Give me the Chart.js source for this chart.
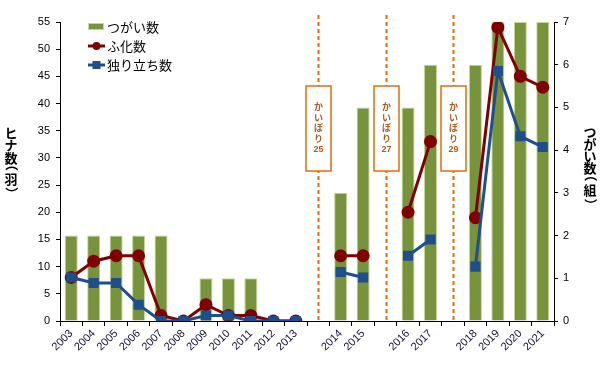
<!DOCTYPE html>
<html>
<head>
<meta charset="utf-8">
<script src="https://cdn.jsdelivr.net/npm/chart.js@4/dist/chart.umd.min.js"></script>
<style>
html,body{margin:0;padding:0;background:#fff;}
#wrap{width:602px;height:366px;position:relative;}
</style>
</head>
<body>
<div id="wrap"><canvas id="c" width="602" height="366"></canvas></div>
<script>
// Categories ('' marks the break columns with dashed separators)
const categories = ['2003','2004','2005','2006','2007','2008','2009','2010','2011','2012','2013','',
  '2014','2015','','2016','2017','','2018','2019','2020','2021'];
// つがい数 (pairs, right axis)
const pairs = [2,2,2,2,2,0,1,1,1,0,0,null, 3,5,null, 5,6,null, 6,7,7,7];
// ふ化数 (hatched, left axis)
const hatched = [8,11,12,12,1,0,3,1,1,0,0,null, 12,12,null, 20,33,null, 19,54,45,43];
// 独り立ち数 (fledged, left axis)
const fledged = [8,7,7,3,0,0,1,1,0,0,0,null, 9,8,null, 12,15,null, 10,46,34,32];
// annotation texts at the break columns
const breakLabels = ['かいぼり25','かいぼり27','かいぼり29'];
const seriesNames = ['つがい数','ふ化数','独り立ち数'];
const leftTitle = 'ヒナ数（羽）';
const rightTitle = 'つがい数（組）';

const JP = '"Noto Sans CJK JP", sans-serif';
const NUM = '"Liberation Sans", Arial, sans-serif';
const GREEN = '#77933c', GREEN_B = '#c3d69b', RED = '#800000', BLUE = '#1f4e8c', ORANGE = '#e46c0a';

// draws stacked vertical text; parentheses are rotated and centred on their glyph box
function verticalText(ctx, text, x, y0, step, pstep){
  let y = y0;
  const chars = text.split('');
  chars.forEach((ch,i)=>{
    const isP = (ch==='（' || ch==='）');
    if(isP){
      ctx.save();
      ctx.textAlign = 'left'; ctx.textBaseline = 'alphabetic';
      const m = ctx.measureText(ch);
      const cx = (m.actualBoundingBoxRight - m.actualBoundingBoxLeft)/2;
      const cy = (m.actualBoundingBoxDescent - m.actualBoundingBoxAscent)/2;
      ctx.translate(x, y); ctx.rotate(Math.PI/2);
      ctx.fillText(ch, -cx, -cy);
      ctx.restore();
    } else {
      ctx.fillText(ch, x, y);
    }
    const next = chars[i+1];
    const nextP = next==='（' || next==='）';
    y += (isP || nextP) ? pstep : step;
  });
}

const overlay = {
  id: 'overlay',
  beforeDatasetsDraw(chart){
    const ctx = chart.ctx;
    const x = chart.scales.x, ca = chart.chartArea;
    let k = 0;
    categories.forEach((c,i)=>{
      if(c!=='') return;
      const px = Math.round(x.getPixelForValue(i)) + 0.5;
      ctx.save();
      ctx.strokeStyle = ORANGE; ctx.lineWidth = 2; ctx.setLineDash([4,3]);
      ctx.beginPath(); ctx.moveTo(px, ca.top - 7); ctx.lineTo(px, ca.bottom); ctx.stroke();
      ctx.setLineDash([]);
      const bw = 25, bt = ca.top + 64, bh = 85;
      ctx.fillStyle = '#fff';
      ctx.fillRect(px - bw/2, bt, bw, bh);
      ctx.lineWidth = 1.5; ctx.strokeRect(px - bw/2, bt, bw, bh);
      const t = breakLabels[k++] || '';
      ctx.fillStyle = '#b3591a';
      ctx.textAlign = 'center'; ctx.textBaseline = 'middle';
      ctx.font = 'bold 9px ' + JP;
      t.slice(0,4).split('').forEach((ch,j)=>{ ctx.fillText(ch, px, bt + 21 + j*10.5); });
      ctx.font = 'bold 9px ' + NUM;
      ctx.fillText(t.slice(4), px, bt + 21 + 4*10.5 + 1);
      ctx.restore();
    });
  },
  afterDraw(chart){
    const ctx = chart.ctx;
    ctx.save();
    // legend
    const lx = 88, rows = [27, 46, 65];
    ctx.fillStyle = GREEN; ctx.fillRect(lx, rows[0]-3, 15, 6);
    ctx.strokeStyle = GREEN_B; ctx.lineWidth = 1; ctx.strokeRect(lx+0.5, rows[0]-3.5, 15, 6);
    ctx.strokeStyle = RED; ctx.lineWidth = 3;
    ctx.beginPath(); ctx.moveTo(lx, rows[1]); ctx.lineTo(lx+17, rows[1]); ctx.stroke();
    ctx.fillStyle = RED; ctx.beginPath(); ctx.arc(lx+8.5, rows[1], 4, 0, Math.PI*2); ctx.fill();
    ctx.strokeStyle = BLUE;
    ctx.beginPath(); ctx.moveTo(lx, rows[2]); ctx.lineTo(lx+17, rows[2]); ctx.stroke();
    ctx.fillStyle = BLUE; ctx.fillRect(lx+4.5, rows[2]-4, 8, 8);
    ctx.fillStyle = '#000'; ctx.font = '13px ' + JP;
    ctx.textAlign = 'left'; ctx.textBaseline = 'middle';
    seriesNames.forEach((s,i)=> ctx.fillText(s, lx + 19, rows[i]));
    // axis titles (vertical, stacked)
    ctx.font = 'bold 13px ' + JP; ctx.textAlign = 'center'; ctx.textBaseline = 'middle';
    verticalText(ctx, leftTitle, 11, 133, 12.5, 10.5);
    verticalText(ctx, rightTitle, 590, 132, 12, 11);
    ctx.restore();
  }
};

new Chart(document.getElementById('c'), {
  type: 'bar',
  data: {
    labels: categories,
    datasets: [
      { type:'line', label: seriesNames[2], data: fledged, yAxisID:'y', order:0,
        borderColor: BLUE, backgroundColor: BLUE, borderWidth: 3,
        pointStyle:'rect', pointRadius: 5, pointHoverRadius:5, spanGaps:false, tension:0 },
      { type:'line', label: seriesNames[1], data: hatched, yAxisID:'y', order:1,
        borderColor: RED, backgroundColor: RED, borderWidth: 3,
        pointStyle:'circle', pointRadius: 5, pointHoverRadius:5, spanGaps:false, tension:0 },
      { type:'bar', label: seriesNames[0], data: pairs, yAxisID:'y2', order:2,
        backgroundColor: GREEN, borderColor: GREEN_B, borderWidth: 1,
        barPercentage: 0.58, categoryPercentage: 1.0 }
    ]
  },
  options: {
    responsive: false,
    animation: false,
    events: [],
    layout: { padding: { left: 20, right: 28, top: 22, bottom: 0 } },
    plugins: { legend: { display:false }, tooltip: { enabled:false } },
    scales: {
      x: {
        offset: true,
        grid: { display:true, drawOnChartArea:false, drawTicks:true, tickLength:5, offset:true, color:'#000' },
        border: { display:true, color:'#000', width:1 },
        ticks: { autoSkip:false, maxRotation:45, minRotation:45, color:'#101030', padding:1,
                 font:{ family: NUM, size: 11 } },
        afterFit(s){ s.height = 45; }
      },
      y: {
        position:'left', min:0, max:55,
        grid: { display:true, drawOnChartArea:false, drawTicks:true, tickLength:4, color:'#000' },
        border: { display:true, color:'#000', width:1 },
        ticks: { stepSize:5, color:'#000', padding:6, font:{ family: NUM, size: 11 } },
        afterFit(s){ s.width = 40; }
      },
      y2: {
        position:'right', min:0, max:7,
        grid: { display:true, drawOnChartArea:false, drawTicks:true, tickLength:4, color:'#000' },
        border: { display:true, color:'#000', width:1 },
        ticks: { stepSize:1, color:'#000', padding:5, font:{ family: NUM, size: 11 } },
        afterFit(s){ s.width = 20; }
      }
    }
  },
  plugins: [overlay]
});
</script>
</body>
</html>
